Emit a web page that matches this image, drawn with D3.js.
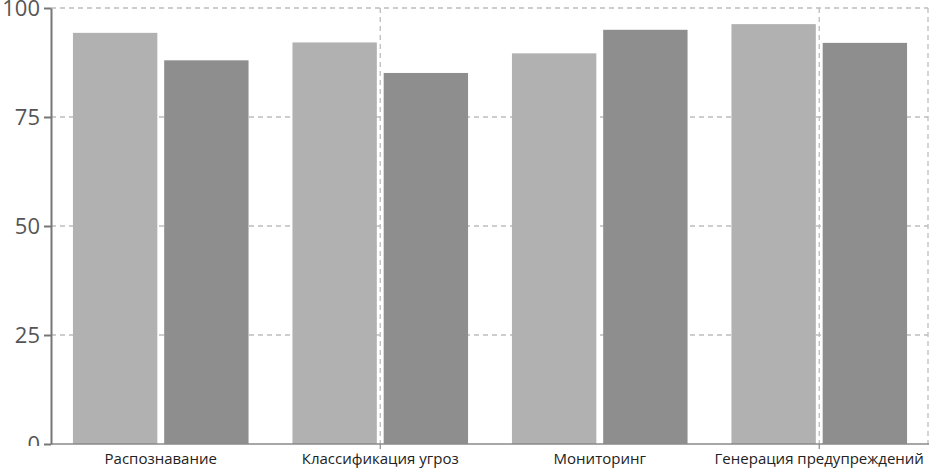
<!DOCTYPE html>
<html>
<head>
<meta charset="utf-8">
<script src="https://cdn.jsdelivr.net/npm/d3@7"></script>
<style>
  html, body { margin: 0; padding: 0; background: #fff; }
  svg { display: block; }
</style>
</head>
<body>
<svg id="chart" width="932" height="469"></svg>
<script>
const categories = ["Распознавание", "Классификация угроз", "Мониторинг", "Генерация предупреждений"];
const seriesNames = ["A", "B"];
const seriesA = [94.3, 92.1, 89.6, 96.3];
const seriesB = [88.0, 85.1, 95.0, 92.0];
const yTicks = [0, 25, 50, 75, 100];
const colors = ["#b1b1b1", "#8e8e8e"];

const data = categories.map((c, i) => ({ cat: c, values: [seriesA[i], seriesB[i]] }));

const svg = d3.select("#chart");
const margin = { left: 51, right: 3, top: 8, bottom: 25 };
const W = 932, H = 469;
const x0 = margin.left, x1 = W - margin.right;
const yBottom = H - margin.bottom, yTop = margin.top;

const x = d3.scaleBand().domain(categories).range([x0, x1]).paddingInner(0.2).paddingOuter(0.1);
const xs = d3.scaleBand().domain(seriesNames).range([0, x.bandwidth()]).paddingInner(0.075);
const y = d3.scaleLinear().domain([0, 100]).range([yBottom, yTop]);

const gridColor = "#bdbdbd";

// horizontal grid
svg.append("g").selectAll("line")
  .data(yTicks.filter(d => d > 0))
  .join("line")
  .attr("x1", x0).attr("x2", x1 - 1)
  .attr("y1", d => y(d)).attr("y2", d => y(d))
  .attr("stroke", gridColor).attr("stroke-width", 1.3)
  .attr("stroke-dasharray", "5,4");

// vertical grid (every other category + right edge)
const vx = categories.filter((c, i) => i % 2 === 1).map(c => x(c) + x.bandwidth() / 2);
vx.push(x1 - 1);
svg.append("g").selectAll("line")
  .data(vx)
  .join("line")
  .attr("x1", d => d).attr("x2", d => d)
  .attr("y1", yTop).attr("y2", yBottom)
  .attr("stroke", gridColor).attr("stroke-width", 1.3)
  .attr("stroke-dasharray", "5,4");

// bars
const groups = svg.append("g").selectAll("g")
  .data(data)
  .join("g")
  .attr("transform", d => `translate(${x(d.cat)},0)`);
groups.selectAll("rect")
  .data(d => d.values.map((v, j) => ({ key: seriesNames[j], v, j })))
  .join("rect")
  .attr("x", d => xs(d.key))
  .attr("width", xs.bandwidth())
  .attr("y", d => y(d.v))
  .attr("height", d => y(0) - y(d.v))
  .attr("fill", d => colors[d.j]);

// x axis
const xAxis = svg.append("g").attr("transform", `translate(0,${yBottom})`);
xAxis.append("line").attr("x1", x0).attr("x2", x1).attr("y1", 0).attr("y2", 0)
  .attr("stroke", "#8a8a8a").attr("stroke-width", 1.5);
xAxis.selectAll("line.tick")
  .data(categories.filter((c, i) => i % 2 === 1))
  .join("line").attr("class", "tick")
  .attr("x1", d => x(d) + x.bandwidth() / 2).attr("x2", d => x(d) + x.bandwidth() / 2)
  .attr("y1", 0).attr("y2", 5)
  .attr("stroke", "#8a8a8a").attr("stroke-width", 1.2);
xAxis.selectAll("text")
  .data(categories)
  .join("text")
  .attr("x", d => x(d) + x.bandwidth() / 2)
  .attr("y", 20)
  .attr("text-anchor", "middle")
  .attr("font-family", "'Open Sans', 'Noto Sans', sans-serif")
  .attr("font-size", 15)
  .attr("fill", "#222")
  .text(d => d);

// y axis
svg.append("defs").append("clipPath").attr("id", "yclip")
  .append("rect").attr("x", -60).attr("y", 0).attr("width", 120).attr("height", yBottom + 2);
const yAxis = svg.append("g")
  .attr("transform", `translate(${x0},0)`)
  .attr("clip-path", "url(#yclip)")
  .call(d3.axisLeft(y).tickValues(yTicks).tickSize(7).tickPadding(4).tickSizeOuter(0));
yAxis.select(".domain").attr("stroke", "#777").attr("stroke-width", 2);
yAxis.selectAll(".tick line").attr("stroke", "#777").attr("stroke-width", 2);
yAxis.selectAll(".tick text")
  .attr("font-family", "'Open Sans', 'Noto Sans', sans-serif")
  .attr("font-size", 22)
  .attr("fill", "#555");
</script>
</body>
</html>
